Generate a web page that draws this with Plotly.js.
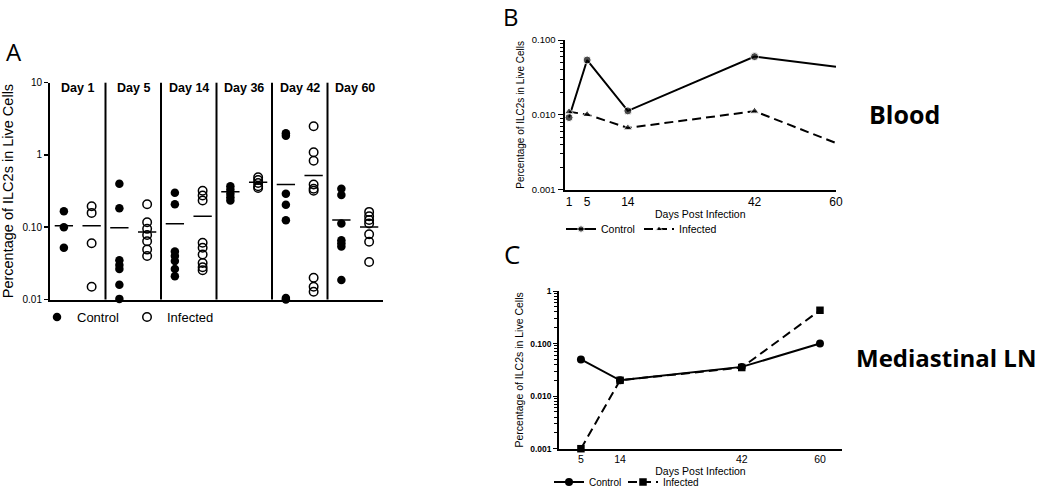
<!DOCTYPE html>
<html><head><meta charset="utf-8">
<script src="https://cdn.plot.ly/plotly-3.0.1.min.js"></script>
<style>body{margin:0;background:#fff}#chart{width:1050px;height:490px}</style>
</head><body><div id="chart"></div>
<script>
// ---------- Panel A data (percentage of ILC2s in live cells) ----------
const dayLabelsA = ['Day 1','Day 5','Day 14','Day 36','Day 42','Day 60'];
const controlA = [
  [0.166, 0.100, 0.052],
  [0.40, 0.183, 0.035, 0.030, 0.0265, 0.016, 0.0102],
  [0.30, 0.208, 0.046, 0.040, 0.034, 0.0265, 0.021],
  [0.37, 0.33, 0.29, 0.26, 0.235],
  [2.0, 1.85, 0.29, 0.205, 0.125, 0.0105, 0.010],
  [0.34, 0.28, 0.113, 0.066, 0.060, 0.054, 0.0186]
];
const infectedA = [
  [0.195, 0.158, 0.060, 0.015],
  [0.208, 0.117, 0.095, 0.078, 0.064, 0.049, 0.040],
  [0.32, 0.275, 0.234, 0.061, 0.052, 0.042, 0.032, 0.028, 0.0254],
  [0.49, 0.45, 0.41, 0.37, 0.35],
  [2.49, 1.09, 0.83, 0.39, 0.34, 0.32, 0.020, 0.015, 0.0128],
  [0.163, 0.142, 0.126, 0.113, 0.080, 0.063, 0.033]
];
const controlMeanA  = [0.105, 0.098, 0.112, 0.31, 0.39, 0.126];
const infectedMeanA = [0.105, 0.086, 0.142, 0.42, 0.52, 0.101];

// ---------- Panel B data (Blood) ----------
const daysB = [1, 5, 14, 42, 60];
const controlB  = [0.0092, 0.054, 0.0113, 0.060, 0.044];
const infectedB = [0.011, 0.0101, 0.0067, 0.0112, 0.0042];
const tickDaysB = [1, 5, 14, 42, 60];

// ---------- Panel C data (Mediastinal LN) ----------
const daysC = [5, 14, 42, 60];
const controlC  = [0.050, 0.020, 0.036, 0.100];
const infectedC = [0.001, 0.020, 0.035, 0.43];
const tickDaysC = [5, 14, 42, 60];

// ---------- helpers ----------
const W = 1050, H = 490;
const px = v => v / W;
const py = v => 1 - v / H;
const FONT = "'Liberation Sans', Arial, Helvetica, sans-serif";
const HUM = "'Open Sans', 'Noto Sans', sans-serif";

const ctrlPos = k => 2 * k + 0.5;
const infPos  = k => 2 * k + 1.5;

function flatX(groups, posFn) { return groups.flatMap((g, k) => g.map(() => posFn(k))); }
function flatY(groups) { return groups.flat(); }
function meanSeg(means, posFn, half) {
  const x = [], y = [];
  means.forEach((m, k) => { x.push(posFn(k) - half, posFn(k) + half, null); y.push(m, m, null); });
  return {x, y};
}

const traces = [];
traces.push({
  type: 'scatter', mode: 'markers', name: 'Control', xaxis: 'x', yaxis: 'y', legend: 'legend',
  x: flatX(controlA, ctrlPos), y: flatY(controlA),
  marker: {symbol: 'circle', size: 8.5, color: '#000'}, cliponaxis: false
});
traces.push({
  type: 'scatter', mode: 'markers', name: 'Infected', xaxis: 'x', yaxis: 'y', legend: 'legend2',
  x: flatX(infectedA, infPos), y: flatY(infectedA),
  marker: {symbol: 'circle-open', size: 8.5, color: '#000', line: {width: 1.5, color: '#000'}}, cliponaxis: false
});
const mc = meanSeg(controlMeanA, ctrlPos, 0.33);
const mi = meanSeg(infectedMeanA, infPos, 0.33);
traces.push({type: 'scatter', mode: 'lines', x: mc.x, y: mc.y, xaxis: 'x', yaxis: 'y', showlegend: false,
  line: {color: '#000', width: 1.5}, connectgaps: false, hoverinfo: 'skip'});
traces.push({type: 'scatter', mode: 'lines', x: mi.x, y: mi.y, xaxis: 'x', yaxis: 'y', showlegend: false,
  line: {color: '#000', width: 1.5}, connectgaps: false, hoverinfo: 'skip'});

// B
const hideLast = (arr, s) => arr.map((_, i) => i === arr.length - 1 ? 0 : s);
traces.push({
  type: 'scatter', mode: 'lines+markers', name: 'Control', xaxis: 'x2', yaxis: 'y2', legend: 'legend3',
  x: daysB, y: controlB, line: {color: '#000', width: 2},
  marker: {symbol: 'circle', size: hideLast(daysB, 8), color: '#000'}
});
traces.push({
  type: 'scatter', mode: 'lines+markers', name: 'Infected', xaxis: 'x2', yaxis: 'y2', legend: 'legend4',
  x: daysB, y: infectedB, line: {color: '#000', width: 2, dash: '9px,5px'},
  marker: {symbol: 'triangle-up', size: hideLast(daysB, 8), color: '#000'}
});
// C
traces.push({
  type: 'scatter', mode: 'lines+markers', name: 'Control', xaxis: 'x3', yaxis: 'y3', legend: 'legend5',
  x: daysC, y: controlC, line: {color: '#000', width: 2},
  marker: {symbol: 'circle', size: 8, color: '#000'}, cliponaxis: false
});
traces.push({
  type: 'scatter', mode: 'lines+markers', name: 'Infected', xaxis: 'x3', yaxis: 'y3', legend: 'legend6',
  x: daysC, y: infectedC, line: {color: '#000', width: 2, dash: '9px,5px'},
  marker: {symbol: 'square', size: 7.5, color: '#000'}, cliponaxis: false
});

// shapes: section dividers in panel A
const shapes = [];
for (let k = 1; k < dayLabelsA.length; k++) {
  shapes.push({type: 'line', xref: 'x', yref: 'y domain', x0: 2 * k, x1: 2 * k, y0: 0, y1: 1,
    line: {color: '#000', width: 2}});
}

const annotations = [];
dayLabelsA.forEach((d, k) => annotations.push({
  xref: 'x', yref: 'y domain', x: 2 * k + 1, y: 0.974, text: '<b>' + d + '</b>',
  showarrow: false, xanchor: 'center', yanchor: 'middle', font: {family: FONT, size: 12.5, color: '#000'}
}));
annotations.push({xref: 'paper', yref: 'paper', x: px(14), y: py(51), text: 'A', showarrow: false,
  xanchor: 'center', yanchor: 'middle', font: {family: HUM, size: 24, color: '#000'}});
annotations.push({xref: 'paper', yref: 'paper', x: px(511), y: py(17), text: 'B', showarrow: false,
  xanchor: 'center', yanchor: 'middle', font: {family: HUM, size: 24, color: '#000'}});
annotations.push({xref: 'paper', yref: 'paper', x: px(512), y: py(254), text: 'C', showarrow: false,
  xanchor: 'center', yanchor: 'middle', font: {family: HUM, size: 26, color: '#000'}});
annotations.push({xref: 'paper', yref: 'paper', x: px(904), y: py(114), text: '<b>Blood</b>', showarrow: false,
  xanchor: 'center', yanchor: 'middle', font: {family: HUM, size: 25, color: '#000'}});
annotations.push({xref: 'paper', yref: 'paper', x: px(946), y: py(357), text: '<b>Mediastinal LN</b>', showarrow: false,
  xanchor: 'center', yanchor: 'middle', font: {family: HUM, size: 24, color: '#000'}});

const axBase = {showline: true, linecolor: '#000', linewidth: 2, showgrid: false, zeroline: false, mirror: false, automargin: false};
const leg = (x, y, size) => ({orientation: 'h', x: px(x), y: py(y), xanchor: 'left', yanchor: 'middle',
  font: {size: size, color: '#000'}, bgcolor: 'rgba(0,0,0,0)', borderwidth: 0});

const layout = {
  width: W, height: H, margin: {l: 0, r: 0, t: 0, b: 0, pad: 0, autoexpand: false},
  paper_bgcolor: '#fff', plot_bgcolor: '#fff',
  font: {family: FONT, color: '#000'},
  showlegend: true,
  xaxis: Object.assign({}, axBase, {domain: [px(50), px(383)], range: [0, 12], anchor: 'y',
    showticklabels: false, ticks: ''}),
  yaxis: Object.assign({}, axBase, {domain: [py(299.5), py(82.7)], type: 'log', range: [-2, 1], anchor: 'x',
    tickmode: 'array', tickvals: [0.01, 0.1, 1, 10], ticktext: ['0.01', '0.10', '1', '10'],
    ticks: 'outside', ticklen: 4, tickwidth: 1.5, tickcolor: '#000', tickfont: {size: 10, color: '#000'},
    title: {text: 'Percentage of ILC2s in Live Cells', font: {size: 14.5, color: '#000'}, standoff: 8}}),
  xaxis2: Object.assign({}, axBase, {domain: [px(564.5), px(836)], range: [0, 60], anchor: 'y2',
    tickmode: 'array', tickvals: tickDaysB, ticks: '', tickfont: {size: 12, color: '#000'},
    title: {text: 'Days Post Infection', font: {size: 10.5, color: '#000'}, standoff: 3}}),
  yaxis2: Object.assign({}, axBase, {domain: [py(189.7), py(40)], type: 'log', range: [-3, -1], anchor: 'x2',
    tickmode: 'array', tickvals: [0.001, 0.01, 0.1], ticktext: ['0.001', '0.010', '0.100'],
    ticks: 'outside', ticklen: 5, tickwidth: 1, tickcolor: '#000', tickfont: {size: 9.5, color: '#000'},
    minor: {ticks: 'outside', ticklen: 3, tickwidth: 1, tickcolor: '#000', dtick: 'D1', showgrid: false},
    title: {text: 'Percentage of ILC2s in Live Cells', font: {size: 10, color: '#000'}, standoff: 5}}),
  xaxis3: Object.assign({}, axBase, {domain: [px(559.2), px(841.7)], range: [0, 65], anchor: 'y3',
    tickmode: 'array', tickvals: tickDaysC, ticks: '', tickfont: {size: 10.5, color: '#000'},
    title: {text: 'Days Post Infection', font: {size: 10.5, color: '#000'}, standoff: 2}}),
  yaxis3: Object.assign({}, axBase, {domain: [py(448.7), py(291)], type: 'log', range: [-3, 0], anchor: 'x3',
    tickmode: 'array', tickvals: [0.001, 0.01, 0.1, 1], ticktext: ['<b>0.001</b>', '<b>0.010</b>', '<b>0.100</b>', '<b>1</b>'],
    ticks: 'outside', ticklen: 4, tickwidth: 1, tickcolor: '#000', tickfont: {size: 8.5, color: '#000'},
    minor: {ticks: 'outside', ticklen: 3, tickwidth: 1, tickcolor: '#000', dtick: 'D1', showgrid: false},
    title: {text: 'Percentage of ILC2s in Live Cells', font: {size: 10.5, color: '#000'}, standoff: 5}}),
  legend:  leg(37, 317, 13),
  legend2: leg(127, 317, 13),
  legend3: leg(561, 229, 10.5),
  legend4: leg(639, 229, 10.5),
  legend5: leg(549, 482, 10),
  legend6: leg(623, 482, 10),
  shapes: shapes,
  annotations: annotations
};

Plotly.newPlot('chart', traces, layout, {staticPlot: true, displayModeBar: false});
</script>
</body></html>
